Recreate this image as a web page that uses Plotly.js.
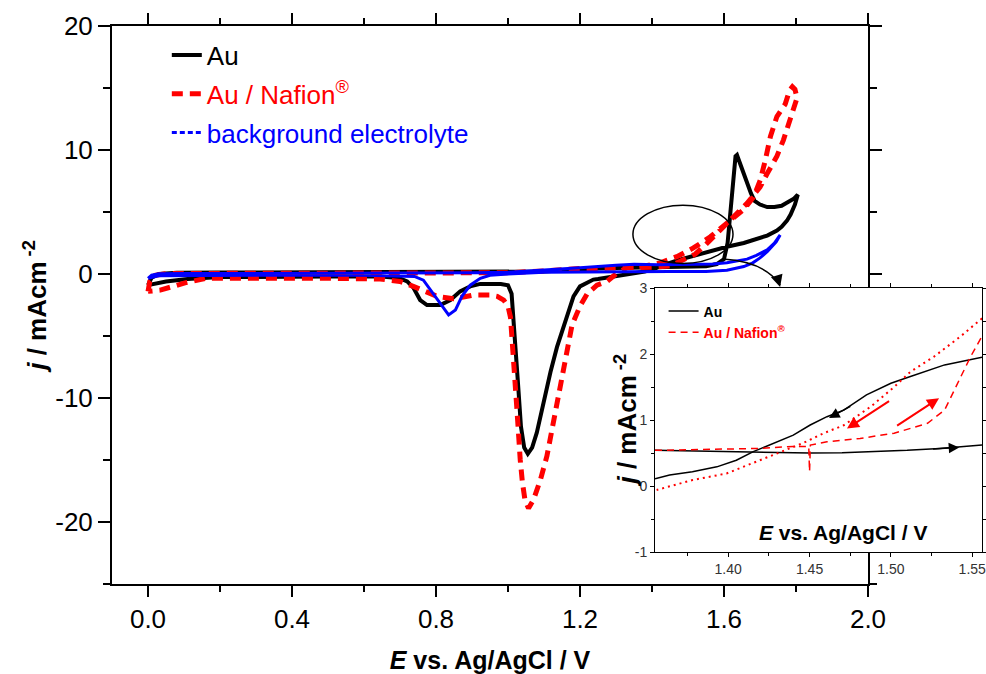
<!DOCTYPE html>
<html>
<head>
<meta charset="utf-8">
<script src="https://cdn.plot.ly/plotly-3.0.1.min.js"></script>
<style>html,body{margin:0;padding:0;background:#fff;}#chart{width:986px;height:674px;}</style>
</head>
<body>
<div id="chart"></div>
<script>
// ---------- main chart data (E in V vs Ag/AgCl, j in mA cm^-2) ----------
const auE = [0, 0.01, 0.03, 0.08, 0.2, 0.4, 0.6, 0.8, 1.0, 1.1, 1.15, 1.2, 1.25, 1.3, 1.35, 1.4, 1.45, 1.5, 1.55, 1.58, 1.6, 1.61, 1.618, 1.625, 1.632, 1.636, 1.641, 1.655, 1.664, 1.675, 1.685, 1.70, 1.72, 1.74, 1.76, 1.78, 1.795, 1.805,
  1.797, 1.785, 1.775, 1.76, 1.747, 1.72, 1.70, 1.655, 1.608, 1.562, 1.515, 1.47, 1.44, 1.41, 1.38, 1.35, 1.32, 1.284, 1.25, 1.237, 1.22, 1.2, 1.182, 1.164, 1.15, 1.136, 1.118, 1.099, 1.08, 1.067, 1.055, 1.045, 1.036, 1.027, 1.018, 1.01, 1.0, 0.98, 0.95, 0.923, 0.895, 0.867, 0.84, 0.812, 0.775, 0.756, 0.737, 0.72, 0.70, 0.65, 0.5, 0.3, 0.2, 0.11, 0.05, 0];
const auJ = [-0.9, -0.3, 0.0, 0.1, 0.12, 0.12, 0.12, 0.12, 0.15, 0.2, 0.3, 0.4, 0.45, 0.48, 0.5, 0.5, 0.5, 0.53, 0.62, 0.8, 1.2, 2.5, 5, 8, 9.5, 9.6, 9.2, 7.9, 7.3, 6.5, 5.9, 5.6, 5.4, 5.4, 5.5, 5.8, 6.1, 6.4,
  5.6, 4.8, 4.3, 3.8, 3.5, 3.1, 2.9, 2.5, 2.2, 1.85, 1.5, 1.1, 0.8, 0.45, 0.2, 0.05, -0.1, -0.3, -0.4, -0.45, -0.7, -1.0, -1.8, -3.4, -4.8, -5.9, -7.9, -10.4, -12.8, -14.0, -14.5, -14.0, -12.3, -8.5, -4.2, -1.6, -0.9, -0.8, -0.8, -0.8, -1.0, -1.4, -2.1, -2.5, -2.5, -2.1, -1.1, -0.6, -0.35, -0.2, -0.2, -0.2, -0.25, -0.4, -0.6, -0.9];

const nafE = [0, 0.005, 0.02, 0.05, 0.2, 0.4, 0.6, 0.8, 1.0, 1.1, 1.15, 1.2, 1.25, 1.3, 1.35, 1.4, 1.45, 1.47, 1.5, 1.52, 1.55, 1.59, 1.626, 1.664, 1.70, 1.72, 1.747, 1.765, 1.784, 1.795, 1.803,
  1.797, 1.79, 1.782, 1.77, 1.747, 1.729, 1.715, 1.701, 1.682, 1.655, 1.608, 1.562, 1.515, 1.469, 1.423, 1.38, 1.33, 1.3, 1.275, 1.247, 1.22, 1.2, 1.178, 1.159, 1.145, 1.127, 1.108, 1.09, 1.071, 1.057, 1.047, 1.04, 1.034, 1.025, 1.016, 1.007, 1.0, 0.988, 0.97, 0.951, 0.904, 0.87, 0.849, 0.803, 0.765, 0.737, 0.7, 0.645, 0.5, 0.3, 0.16, 0.105, 0.06, 0.034, 0];
const nafJ = [-1.4, -0.6, -0.1, 0.03, 0.05, 0.05, 0.05, 0.05, 0.1, 0.25, 0.4, 0.45, 0.45, 0.45, 0.5, 0.55, 0.65, 0.9, 1.3, 1.6, 2.4, 3.5, 4.6, 5.7, 7.0, 8.1, 9.5, 10.8, 12.4, 13.5, 14.2,
  14.9, 15.1, 14.8, 13.7, 12.7, 11.1, 9.2, 7.6, 6.2, 5.2, 4.1, 3.0, 2.1, 1.4, 0.9, 0.65, 0.5, 0.0, -0.6, -0.9, -1.6, -2.6, -4.1, -6.9, -9.1, -11.8, -14.7, -16.6, -18.2, -18.9, -18.2, -16.8, -15.0, -11.0, -6.9, -3.5, -2.6, -2.1, -1.8, -1.7, -1.7, -1.9, -2.0, -1.8, -1.4, -1.0, -0.6, -0.4, -0.35, -0.35, -0.35, -0.7, -1.1, -1.3, -1.4];

const bgE = [0, 0.01, 0.03, 0.1, 0.3, 0.6, 0.9, 1.0, 1.1, 1.2, 1.3, 1.35, 1.42, 1.515, 1.57, 1.608, 1.64, 1.664, 1.69, 1.72, 1.74, 1.756,
  1.745, 1.72, 1.70, 1.68, 1.655, 1.608, 1.55, 1.45, 1.3, 1.2, 1.1, 1.0, 0.95, 0.923, 0.895, 0.872, 0.854, 0.835, 0.817, 0.793, 0.765, 0.74, 0.6, 0.3, 0.1, 0.03, 0];
const bgJ = [-0.35, -0.1, 0.02, 0.05, 0.05, 0.05, 0.1, 0.15, 0.3, 0.5, 0.7, 0.78, 0.75, 0.75, 0.8, 0.9, 1.05, 1.2, 1.5, 1.95, 2.5, 3.15,
  2.6, 1.8, 1.3, 0.9, 0.6, 0.3, 0.2, 0.2, 0.2, 0.2, 0.15, 0.0, -0.1, -0.35, -0.9, -1.8, -2.9, -3.3, -2.6, -1.6, -0.5, -0.2, -0.1, -0.1, -0.1, -0.15, -0.35];

// ---------- inset data ----------
const inAuFwdE = [1.355, 1.38, 1.40, 1.42, 1.45, 1.47, 1.49, 1.51, 1.53, 1.556];
const inAuFwdJ = [0.54, 0.53, 0.52, 0.51, 0.50, 0.505, 0.52, 0.54, 0.57, 0.62];
const inAuRevE = [1.556, 1.533, 1.512, 1.50, 1.485, 1.471, 1.4607, 1.4504, 1.44, 1.4257, 1.4154, 1.405, 1.393, 1.378, 1.364, 1.355];
const inAuRevJ = [1.95, 1.835, 1.66, 1.557, 1.38, 1.15, 1.05, 0.924, 0.77, 0.62, 0.52, 0.39, 0.29, 0.215, 0.165, 0.11];
const inNafFwdE = [1.355, 1.38, 1.40, 1.42, 1.44, 1.4495, 1.45, 1.4505, 1.4607, 1.481, 1.502, 1.5225, 1.533, 1.541, 1.549, 1.556];
const inNafFwdJ = [0.54, 0.55, 0.56, 0.57, 0.6, 0.6, 0.22, 0.62, 0.67, 0.72, 0.8, 0.95, 1.15, 1.56, 1.96, 2.27];
const inNafRevE = [1.556, 1.543, 1.5265, 1.512, 1.502, 1.4875, 1.471, 1.4587, 1.446, 1.43, 1.413, 1.399, 1.378, 1.356];
const inNafRevJ = [2.54, 2.27, 1.96, 1.73, 1.5, 1.2, 0.92, 0.8, 0.65, 0.49, 0.32, 0.19, 0.09, -0.06];

// ---------- tick labels ----------
const xTickVals = [0, 0.4, 0.8, 1.2, 1.6, 2.0];
const xTickText = ['0.0', '0.4', '0.8', '1.2', '1.6', '2.0'];
const yTickVals = [-20, -10, 0, 10, 20];
const yTickText = ['-20', '-10', '0', '10', '20'];
const x2TickVals = [1.40, 1.45, 1.50, 1.55];
const x2TickText = ['1.40', '1.45', '1.50', '1.55'];
const y2TickVals = [-1, 0, 1, 2, 3];
const y2TickText = ['-1', '0', '1', '2', '3'];

const FONT = 'Arial, "Liberation Sans", sans-serif';

const traces = [
  {x: auE, y: auJ, type: 'scatter', mode: 'lines', name: 'Au', legendgroup: 'a',
   line: {color: '#000000', width: 4}, xaxis: 'x', yaxis: 'y'},
  {x: nafE, y: nafJ, type: 'scatter', mode: 'lines', name: '<span style="color:#ff0000">Au / Nafion<sup>®</sup></span>', legendgroup: 'b',
   line: {color: '#ff0000', width: 5, dash: '11px,7px'}, xaxis: 'x', yaxis: 'y'},
  {x: bgE, y: bgJ, type: 'scatter', mode: 'lines', name: 'background electrolyte', showlegend: false, legendgroup: 'c',
   line: {color: '#0000ff', width: 3}, xaxis: 'x', yaxis: 'y'},
  // legend sample only (the reference legend shows a dashed blue key)
  {x: [null], y: [null], type: 'scatter', mode: 'lines', name: '<span style="color:#0000ff">background electrolyte</span>', legendgroup: 'c',
   line: {color: '#0000ff', width: 3, dash: '5px,3px'}, xaxis: 'x', yaxis: 'y', hoverinfo: 'skip'},
  // inset
  {x: inAuFwdE, y: inAuFwdJ, type: 'scatter', mode: 'lines', name: '<b>Au</b>', legend: 'legend2',
   line: {color: '#000000', width: 1.5}, xaxis: 'x2', yaxis: 'y2'},
  {x: inAuRevE, y: inAuRevJ, type: 'scatter', mode: 'lines', showlegend: false,
   line: {color: '#000000', width: 1.5}, xaxis: 'x2', yaxis: 'y2'},
  {x: inNafFwdE, y: inNafFwdJ, type: 'scatter', mode: 'lines', name: '<b><span style="color:#ff0000">Au / Nafion<sup>®</sup></span></b>', legend: 'legend2',
   line: {color: '#ff0000', width: 1.5, dash: '7px,5px'}, xaxis: 'x2', yaxis: 'y2'},
  {x: inNafRevE, y: inNafRevJ, type: 'scatter', mode: 'lines', showlegend: false,
   line: {color: '#ff0000', width: 2, dash: '2px,4px'}, xaxis: 'x2', yaxis: 'y2'}
];

const layout = {
  width: 986, height: 674,
  margin: {l: 112, r: 4, t: 26, b: 90},
  paper_bgcolor: '#ffffff', plot_bgcolor: '#ffffff',
  font: {family: FONT, color: '#000000', size: 26},
  showlegend: true,
  legend: {x: 0.063, y: 0.99, xanchor: 'left', yanchor: 'top', bgcolor: 'rgba(0,0,0,0)',
           font: {family: FONT, size: 26, color: '#000'}, tracegroupgap: 2},
  legend2: {x: 0.634, y: 0.517, xanchor: 'left', yanchor: 'top', bgcolor: 'rgba(0,0,0,0)',
            font: {family: FONT, size: 14, color: '#000'}},
  xaxis: {domain: [0, 756 / 870], range: [-0.1, 2.0], showgrid: false, zeroline: false,
          showline: true, linecolor: '#000', linewidth: 2, mirror: 'ticks',
          ticks: 'outside', ticklen: 11, tickwidth: 2, tickcolor: '#000',
          tickvals: xTickVals, ticktext: xTickText,
          minor: {dtick: 0.2, ticklen: 6, tickwidth: 2, tickcolor: '#000', ticks: 'outside'},
          tickfont: {family: FONT, size: 26, color: '#000'},
          title: {text: '<b><i>E</i> vs. Ag/AgCl / V</b>', font: {family: FONT, size: 25, color: '#000'}, standoff: 18}},
  yaxis: {domain: [0, 1], range: [-25, 20], showgrid: false, zeroline: false,
          showline: true, linecolor: '#000', linewidth: 2, mirror: 'ticks',
          ticks: 'outside', ticklen: 12, tickwidth: 2, tickcolor: '#000',
          tickvals: yTickVals, ticktext: yTickText,
          minor: {dtick: 5, ticklen: 7, tickwidth: 2, tickcolor: '#000', ticks: 'outside'},
          tickfont: {family: FONT, size: 26, color: '#000'},
          title: {text: '<b><i>j</i> / mAcm<sup> -2</sup></b>', font: {family: FONT, size: 26, color: '#000'}, standoff: 1}},
  xaxis2: {domain: [(655 - 112) / 870, 1.0], range: [1.355, 1.556], anchor: 'y2', showgrid: false, zeroline: false,
           showline: true, linecolor: '#000', linewidth: 1, mirror: 'allticks',
           ticks: 'outside', ticklen: 4, tickwidth: 1, tickcolor: '#000',
           tickvals: x2TickVals, ticktext: x2TickText, ticklabeloverflow: 'allow',
           minor: {dtick: 0.025, tick0: 1.4, ticklen: 3, tickwidth: 1, tickcolor: '#000', ticks: 'outside'},
           tickfont: {family: FONT, size: 14, color: '#333'}},
  yaxis2: {domain: [(584 - 552) / 558, (584 - 288) / 558], range: [-1, 3], anchor: 'x2', showgrid: false, zeroline: false,
           showline: true, linecolor: '#000', linewidth: 1, mirror: 'allticks',
           ticks: 'outside', ticklen: 4, tickwidth: 1, tickcolor: '#000',
           tickvals: y2TickVals, ticktext: y2TickText,
           minor: {dtick: 0.5, ticklen: 3, tickwidth: 1, tickcolor: '#000', ticks: 'outside'},
           tickfont: {family: FONT, size: 14, color: '#333'}},
  shapes: [
    {type: 'circle', xref: 'x', yref: 'y', x0: 1.347, x1: 1.625, y0: 0.85, y1: 5.55,
     line: {color: '#000', width: 1.5}, fillcolor: 'rgba(0,0,0,0)'},
    {type: 'path', xref: 'x', yref: 'y', path: 'M 1.597 1.2 Q 1.715 0.97 1.756 -0.9',
     line: {color: '#000', width: 1.5}}
  ],
  annotations: [
    // arrowhead of the pointer from the ellipse to the inset
    {xref: 'x', yref: 'y', x: 1.756, y: -1.05, ax: -3, ay: -10, text: '', showarrow: true,
     arrowhead: 2, arrowsize: 1.6, arrowwidth: 1.5, arrowcolor: '#000'},
    // inset y-axis title
    {xref: 'x2 domain', yref: 'y2 domain', x: -0.09, y: 0.5, xanchor: 'center', yanchor: 'middle', showarrow: false,
     textangle: -90, text: '<b><i>j</i> / mAcm<sup> -2</sup></b>', font: {family: FONT, size: 26, color: '#000'}},
    // inset axis title placed inside the inset
    {xref: 'x2 domain', yref: 'y2 domain', x: 0.575, y: 0.075, xanchor: 'center', yanchor: 'middle', showarrow: false,
     text: '<b><i>E</i> vs. Ag/AgCl / V</b>', font: {family: FONT, size: 21, color: '#000'}},
    // scan-direction arrows in the inset
    {xref: 'x2', yref: 'y2', axref: 'x2', ayref: 'y2', x: 1.462, y: 1.03, ax: 1.476, ay: 1.22, text: '', showarrow: true,
     arrowhead: 2, arrowsize: 1.4, arrowwidth: 1.5, arrowcolor: '#000'},
    {xref: 'x2', yref: 'y2', axref: 'x2', ayref: 'y2', x: 1.542, y: 0.585, ax: 1.525, ay: 0.56, text: '', showarrow: true,
     arrowhead: 2, arrowsize: 1.4, arrowwidth: 1.5, arrowcolor: '#000'},
    {xref: 'x2', yref: 'y2', axref: 'x2', ayref: 'y2', x: 1.473, y: 0.87, ax: 1.4998, ay: 1.30, text: '', showarrow: true,
     arrowhead: 2, arrowsize: 1.2, arrowwidth: 2, arrowcolor: '#ff0000'},
    {xref: 'x2', yref: 'y2', axref: 'x2', ayref: 'y2', x: 1.5296, y: 1.33, ax: 1.5029, ay: 0.9, text: '', showarrow: true,
     arrowhead: 2, arrowsize: 1.2, arrowwidth: 2, arrowcolor: '#ff0000'}
  ]
};

Plotly.newPlot('chart', traces, layout, {displayModeBar: false, staticPlot: true});
</script>
</body>
</html>
